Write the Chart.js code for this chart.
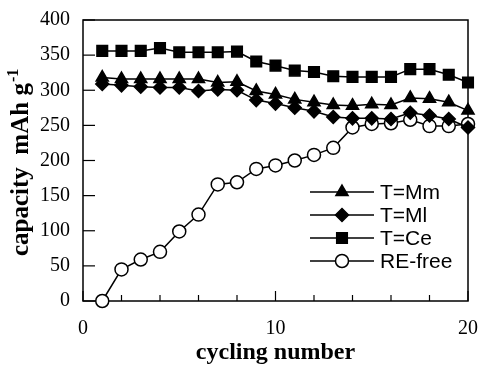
<!DOCTYPE html>
<html>
<head>
<meta charset="utf-8">
<script src="https://cdn.jsdelivr.net/npm/chart.js@4/dist/chart.umd.min.js"></script>
<style>
html,body{margin:0;padding:0;background:#fff;}
#wrap{width:478px;height:373px;position:relative;}
</style>
</head>
<body>
<div id="wrap"><canvas id="c"></canvas></div>
<script>
const cycles = [1,2,3,4,5,6,7,8,9,10,11,12,13,14,15,16,17,18,19,20];
const seriesNames = ['T=Mm','T=Ml','T=Ce','RE-free'];
const mmValues = [318,316,316,316,316,316,311,312,299,294,287,283,279,278,280,279,289,288,283,271];
const mlValues = [309,307,305,304,304,299,301,300,286,281,275,270,262,260,260,259,268,264,259,247];
const ceValues = [356,356,356,360,354,354,354,355,341,335,328,326,320,319,319,319,330,330,322,311];
const reFreeValues = [0,45,59,70,99,123,166,169,188,193,200,208,218,247,252,253,258,249,249,252];
const xTickLabels = [0,10,20];
const yTickLabels = [0,50,100,150,200,250,300,350,400];
const xTitle = 'cycling number';
const yTitleMain = 'capacity  mAh g';
const yTitleSup = '-1';

function pts(vals){ return vals.map((v,i)=>({x:cycles[i], y:v})); }

const styles = [
  {pointStyle:'triangle', radius:7, fill:'#000', order:1},
  {pointStyle:'rectRot', radius:6.5, fill:'#000', order:2},
  {pointStyle:'rect', radius:7.5, fill:'#000', order:3},
  {pointStyle:'circle', radius:6.5, fill:'#fff', order:4}
];
const allVals = [mmValues, mlValues, ceValues, reFreeValues];

const datasets = allVals.map((vals,i)=>({
  label: seriesNames[i],
  data: pts(vals),
  borderColor:'#000',
  borderWidth:1.5,
  backgroundColor: styles[i].fill,
  pointStyle: styles[i].pointStyle,
  pointRadius: styles[i].radius,
  pointBackgroundColor: styles[i].fill,
  pointBorderColor:'#000',
  pointBorderWidth: 1.5,
  order: styles[i].order,
  tension:0,
  clip:false
}));

function drawMarker(ctx, style, r, x, y, fill){
  ctx.save();
  ctx.beginPath();
  if (style==='circle'){
    ctx.arc(x,y,r,0,Math.PI*2);
  } else if (style==='triangle'){
    let rad=0;
    ctx.moveTo(x+Math.sin(rad)*r, y-Math.cos(rad)*r);
    rad += Math.PI*2/3;
    ctx.lineTo(x+Math.sin(rad)*r, y-Math.cos(rad)*r);
    rad += Math.PI*2/3;
    ctx.lineTo(x+Math.sin(rad)*r, y-Math.cos(rad)*r);
    ctx.closePath();
  } else if (style==='rect'){
    const s = Math.SQRT1_2*r;
    ctx.rect(x-s,y-s,2*s,2*s);
  } else if (style==='rectRot'){
    ctx.moveTo(x, y-r); ctx.lineTo(x+r,y); ctx.lineTo(x,y+r); ctx.lineTo(x-r,y); ctx.closePath();
  }
  ctx.fillStyle = fill; ctx.fill();
  ctx.lineWidth = 1.5; ctx.strokeStyle='#000'; ctx.stroke();
  ctx.restore();
}

const decor = {
  id:'decor',
  beforeDatasetsDraw(chart){
    const {ctx, chartArea:a, scales} = chart;
    ctx.save();
    ctx.strokeStyle='#000';
    ctx.lineWidth=1.5;
    ctx.strokeRect(a.left, a.top, a.right-a.left, a.bottom-a.top);
    ctx.lineWidth=1.2;
    scales.x.ticks.forEach(t=>{
      const px = scales.x.getPixelForValue(t.value);
      const len = (t.value % 10 === 0) ? 10 : 6;
      ctx.beginPath(); ctx.moveTo(px, a.bottom); ctx.lineTo(px, a.bottom-len); ctx.stroke();
    });
    scales.y.ticks.forEach(t=>{
      const py = scales.y.getPixelForValue(t.value);
      ctx.beginPath(); ctx.moveTo(a.left, py); ctx.lineTo(a.left+12, py); ctx.stroke();
    });
    ctx.restore();
  },
  afterDraw(chart){
    const ctx = chart.ctx;
    ctx.save();
    const rowY = [192, 215, 238, 261];
    chart.data.datasets.forEach((ds,i)=>{
      const y = rowY[i];
      ctx.strokeStyle='#000'; ctx.lineWidth=1.5;
      ctx.beginPath(); ctx.moveTo(310,y); ctx.lineTo(374,y); ctx.stroke();
      drawMarker(ctx, styles[i].pointStyle, styles[i].radius, 342, y, styles[i].fill);
      ctx.fillStyle='#000';
      ctx.font = '21px "Liberation Sans", Arial, sans-serif';
      ctx.textBaseline='middle'; ctx.textAlign='left';
      ctx.fillText(ds.label, 380, y+1);
    });
    ctx.translate(28, 256);
    ctx.rotate(-Math.PI/2);
    ctx.fillStyle='#000';
    ctx.font = 'bold 25px "Liberation Serif", "Times New Roman", serif';
    ctx.textAlign='left'; ctx.textBaseline='alphabetic';
    ctx.fillText(yTitleMain, 0, 0);
    const w = ctx.measureText(yTitleMain).width;
    ctx.font = 'bold 16px "Liberation Serif", "Times New Roman", serif';
    ctx.fillText(yTitleSup, w+1, -10);
    ctx.restore();
  }
};

new Chart(document.getElementById('c'), {
  type:'line',
  data:{ datasets },
  options:{
    responsive:true,
    maintainAspectRatio:false,
    animation:false,
    events:[],
    layout:{ padding:{ top:20, right:10, left:0, bottom:0 } },
    plugins:{ legend:{display:false}, tooltip:{enabled:false} },
    scales:{
      x:{
        type:'linear', min:0, max:20,
        afterFit(s){ s.height = 72; s.paddingLeft = 0; s.paddingRight = 0; },
        grid:{ display:false, drawOnChartArea:false, drawTicks:false },
        border:{ display:false },
        ticks:{
          stepSize:2, autoSkip:false, maxRotation:0, padding:16,
          color:'#000',
          font:{ family:'"Liberation Serif", "Times New Roman", serif', size:20 },
          callback:(v)=> xTickLabels.includes(v) ? String(v) : ''
        },
        title:{ display:true, text:xTitle, color:'#000',
          font:{ family:'"Liberation Serif", "Times New Roman", serif', size:24, weight:'bold' },
          padding:{ top:0, bottom:6 } }
      },
      y:{
        min:0, max:400,
        afterFit(s){ s.width = 83; s.paddingTop = 0; s.paddingBottom = 0; },
        grid:{ display:false, drawOnChartArea:false, drawTicks:false },
        border:{ display:false },
        ticks:{
          stepSize:50, padding:13, color:'#000',
          font:{ family:'"Liberation Serif", "Times New Roman", serif', size:20 },
          callback:(v)=> yTickLabels.includes(v) ? String(v) : ''
        }
      }
    }
  },
  plugins:[decor]
});
</script>
</body>
</html>
